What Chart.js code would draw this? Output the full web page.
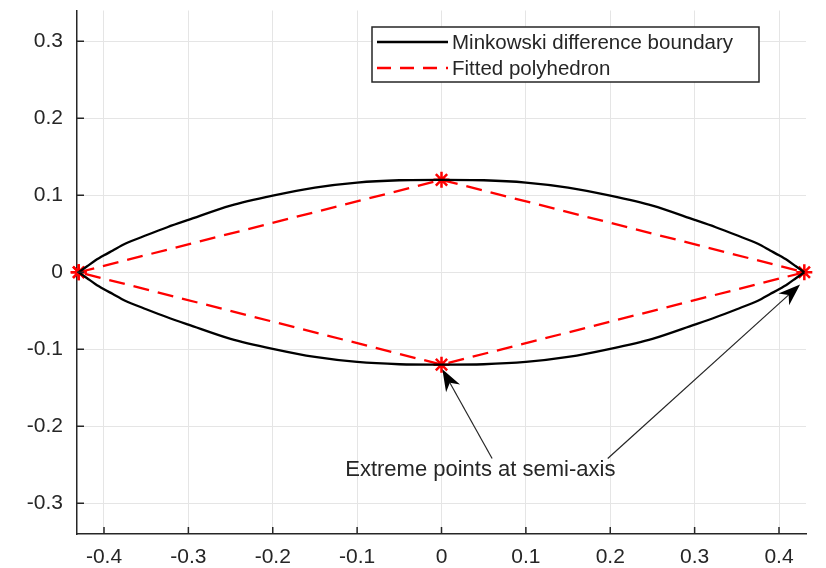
<!DOCTYPE html>
<html>
<head>
<meta charset="utf-8">
<script src="https://cdn.jsdelivr.net/npm/chart.js@4/dist/chart.umd.min.js"></script>
<style>
  html, body { margin: 0; padding: 0; background: #fff; }
  #wrap { width: 826px; height: 568px; }
</style>
</head>
<body>
<div id="wrap"><canvas id="chart" width="826" height="568"></canvas></div>
<script>
// Boundary samples, upper half; lower half is the mirror
const xs = [-0.43, -0.42, -0.41, -0.4, -0.39, -0.375, -0.35, -0.325, -0.3, -0.25, -0.2, -0.15, -0.1, -0.05, 0,
            0.05, 0.1, 0.15, 0.2, 0.25, 0.3, 0.325, 0.35, 0.375, 0.39, 0.4, 0.41, 0.42, 0.43];
const upperY = [0, 0.0078, 0.0155, 0.022, 0.028, 0.037, 0.048, 0.0585, 0.068, 0.0865, 0.0995, 0.110, 0.1165, 0.1195, 0.12,
                0.1195, 0.1165, 0.110, 0.0995, 0.0865, 0.068, 0.0585, 0.048, 0.037, 0.028, 0.022, 0.0155, 0.0078, 0];
const lowerY = [0, -0.0078, -0.0155, -0.022, -0.028, -0.037, -0.048, -0.0585, -0.068, -0.0865, -0.0995, -0.110, -0.1165, -0.1195, -0.12,
                -0.1195, -0.1165, -0.110, -0.0995, -0.0865, -0.068, -0.0585, -0.048, -0.037, -0.028, -0.022, -0.0155, -0.0078, 0];

// Fitted polyhedron vertices (closed)
const polyX = [-0.43, 0, 0.43, 0, -0.43];
const polyY = [0, 0.12, 0, -0.12, 0];

const xTicks = [-0.4, -0.3, -0.2, -0.1, 0, 0.1, 0.2, 0.3, 0.4];
const yTicks = [-0.3, -0.2, -0.1, 0, 0.1, 0.2, 0.3];

const legendLabels = ['Minkowski difference boundary', 'Fitted polyhedron'];
const noteText = 'Extreme points at semi-axis';
const notePos = { x: 0.046, y: -0.257 };
const arrows = [
    { from: { x: 0.06, y: -0.242 }, to: { x: 0.001, y: -0.126 } },
    { from: { x: 0.197, y: -0.242 }, to: { x: 0.425, y: -0.016 } }
];

const FONT = '"Liberation Sans", Arial, Helvetica, sans-serif';
const DARK = '#262626';

const toPoints = (x, y) => x.map((v, i) => ({ x: v, y: y[i] }));

// Inward tick marks (MATLAB style)
const innerTicks = {
    id: 'innerTicks',
    afterDraw(chart) {
        const { ctx, chartArea, scales } = chart;
        ctx.save();
        ctx.strokeStyle = DARK;
        ctx.lineWidth = 1.5;
        ctx.beginPath();
        xTicks.forEach(v => {
            const px = scales.x.getPixelForValue(v);
            ctx.moveTo(px, chartArea.bottom);
            ctx.lineTo(px, chartArea.bottom - 7);
        });
        yTicks.forEach(v => {
            const py = scales.y.getPixelForValue(v);
            ctx.moveTo(chartArea.left, py);
            ctx.lineTo(chartArea.left + 7, py);
        });
        ctx.stroke();
        ctx.restore();
    }
};

// Legend box in the upper right
const boxLegend = {
    id: 'boxLegend',
    afterDraw(chart) {
        const { ctx } = chart;
        const left = 372, top = 27, w = 387, h = 55;
        ctx.save();
        ctx.fillStyle = '#fff';
        ctx.fillRect(left, top, w, h);
        ctx.strokeStyle = DARK;
        ctx.lineWidth = 1.5;
        ctx.strokeRect(left, top, w, h);
        const rows = [
            { color: '#000', dash: [], y: top + 15 },
            { color: '#ff0000', dash: [14, 9], y: top + 41 }
        ];
        ctx.font = '20.5px ' + FONT;
        ctx.textBaseline = 'middle';
        rows.forEach((r, i) => {
            ctx.strokeStyle = r.color;
            ctx.lineWidth = 2.5;
            ctx.setLineDash(r.dash);
            ctx.beginPath();
            ctx.moveTo(left + 5, r.y);
            ctx.lineTo(left + 76, r.y);
            ctx.stroke();
            ctx.setLineDash([]);
            ctx.fillStyle = DARK;
            ctx.fillText(legendLabels[i], left + 80, r.y + 1);
        });
        ctx.restore();
    }
};

// Text annotation with arrows
const annotate = {
    id: 'annotate',
    afterDraw(chart) {
        const { ctx, scales } = chart;
        const px = v => scales.x.getPixelForValue(v);
        const py = v => scales.y.getPixelForValue(v);
        ctx.save();
        ctx.strokeStyle = DARK;
        ctx.fillStyle = '#000';
        ctx.lineWidth = 1.2;
        arrows.forEach(a => {
            const x0 = px(a.from.x), y0 = py(a.from.y);
            const x1 = px(a.to.x), y1 = py(a.to.y);
            const ang = Math.atan2(y1 - y0, x1 - x0);
            const len = 22, half = 8;
            const c = Math.cos(ang), s = Math.sin(ang);
            const bx = x1 - len * c, by = y1 - len * s;
            ctx.beginPath();
            ctx.moveTo(x0, y0);
            ctx.lineTo(x1 - 0.7 * len * c, y1 - 0.7 * len * s);
            ctx.stroke();
            ctx.beginPath();
            ctx.moveTo(x1, y1);
            ctx.lineTo(bx + half * s, by - half * c);
            ctx.lineTo(x1 - 0.7 * len * c, y1 - 0.7 * len * s);
            ctx.lineTo(bx - half * s, by + half * c);
            ctx.closePath();
            ctx.fill();
        });
        ctx.font = '22px ' + FONT;
        ctx.fillStyle = DARK;
        ctx.textAlign = 'center';
        ctx.textBaseline = 'middle';
        ctx.fillText(noteText, px(notePos.x), py(notePos.y));
        ctx.restore();
    }
};

const ctx = document.getElementById('chart').getContext('2d');
new Chart(ctx, {
    type: 'scatter',
    data: {
        datasets: [
            {
                label: legendLabels[0],
                data: toPoints(xs, upperY),
                showLine: true,
                borderColor: '#000',
                borderWidth: 2.3,
                pointRadius: 0,
                tension: 0.3,
                clip: false
            },
            {
                label: legendLabels[0] + ' (lower)',
                data: toPoints(xs, lowerY),
                showLine: true,
                borderColor: '#000',
                borderWidth: 2.3,
                pointRadius: 0,
                tension: 0.3,
                clip: false
            },
            {
                label: legendLabels[1],
                data: toPoints(polyX, polyY),
                showLine: true,
                borderColor: '#ff0000',
                borderWidth: 2.3,
                borderDash: [16, 9],
                pointStyle: 'star',
                pointRadius: 8,
                pointBorderWidth: 2.5,
                pointBorderColor: '#ff0000',
                pointBackgroundColor: '#ff0000',
                clip: false
            }
        ]
    },
    options: {
        responsive: false,
        animation: false,
        layout: { padding: { top: 7, right: 20, left: 0, bottom: 0 } },
        plugins: {
            legend: { display: false },
            tooltip: { enabled: false }
        },
        scales: {
            x: {
                type: 'linear',
                min: -0.432,
                max: 0.432,
                afterBuildTicks: s => { s.ticks = xTicks.map(v => ({ value: v })); },
                afterFit: s => { s.height = 34; s.paddingLeft = 0; s.paddingRight = 0; },
                grid: { color: '#e5e5e5', lineWidth: 1, drawTicks: false },
                border: { display: true, color: DARK, width: 1.5 },
                ticks: {
                    color: DARK,
                    padding: 11,
                    font: { family: FONT, size: 21 },
                    maxRotation: 0,
                    callback: v => String(Math.round(v * 10) / 10)
                }
            },
            y: {
                type: 'linear',
                min: -0.34,
                max: 0.34,
                afterBuildTicks: s => { s.ticks = yTicks.map(v => ({ value: v })); },
                afterFit: s => { s.width = 77; s.paddingTop = 0; s.paddingBottom = 0; },
                grid: { color: '#e5e5e5', lineWidth: 1, drawTicks: false },
                border: { display: true, color: DARK, width: 1.5 },
                ticks: {
                    color: DARK,
                    padding: 14,
                    font: { family: FONT, size: 21 },
                    callback: v => String(Math.round(v * 10) / 10)
                }
            }
        }
    },
    plugins: [innerTicks, annotate, boxLegend]
});
</script>
</body>
</html>
